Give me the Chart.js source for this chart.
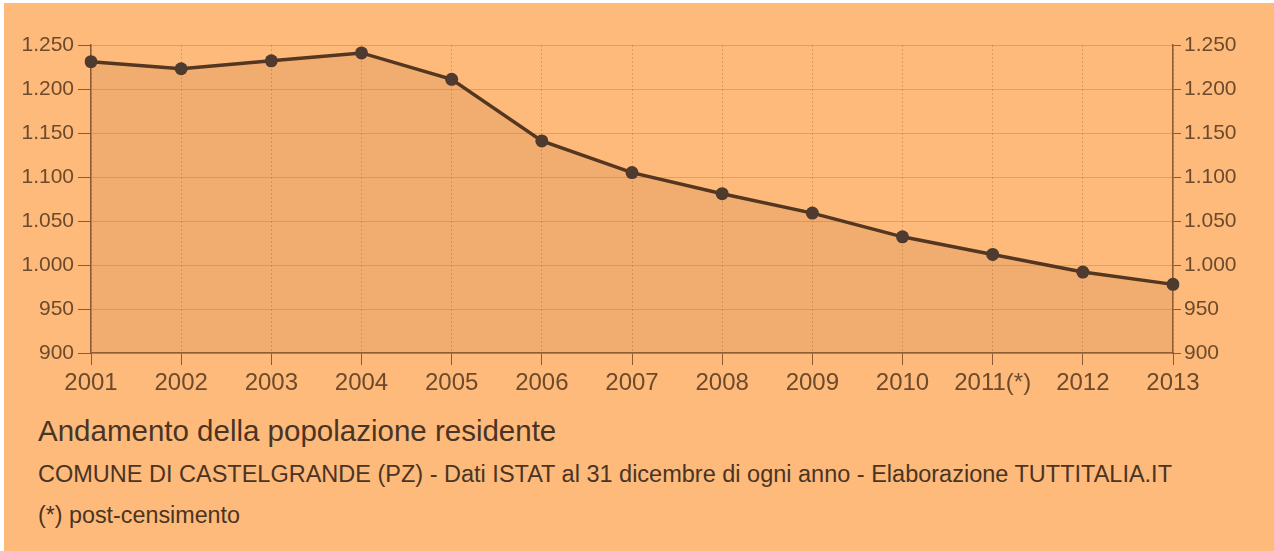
<!DOCTYPE html>
<html>
<head>
<meta charset="utf-8">
<script src="https://cdn.jsdelivr.net/npm/chart.js@4"></script>
<style>
  html, body { margin: 0; padding: 0; background: #fff; }
  #frame {
    position: absolute; left: 4px; top: 3px; width: 1270px; height: 548px;
    background: #fdba7b; font-family: "Liberation Sans", Arial, sans-serif;
  }
  #chart-box { position: absolute; left: -4px; top: -3px; width: 1274px; height: 400px; }
  .txt { position: absolute; left: 34px; color: #4a3424; white-space: nowrap; line-height: 1; }
  #title { top: 413px; font-size: 29.5px; }
  #sub { top: 460px; font-size: 23.5px; }
  #note { top: 501px; font-size: 23.3px; }
</style>
</head>
<body>
<div id="frame">
  <div id="chart-box"><canvas id="chart" width="1274" height="400"></canvas></div>
  <div class="txt" id="title">Andamento della popolazione residente</div>
  <div class="txt" id="sub">COMUNE DI CASTELGRANDE (PZ) - Dati ISTAT al 31 dicembre di ogni anno - Elaborazione TUTTITALIA.IT</div>
  <div class="txt" id="note">(*) post-censimento</div>
</div>
<script>
const years = ['2001', '2002', '2003', '2004', '2005', '2006', '2007', '2008', '2009', '2010', '2011(*)', '2012', '2013'];
const population = [1231, 1223, 1232, 1241, 1211, 1141, 1105, 1081, 1059, 1032, 1012, 992, 978];
const yMin = 900;
const yMax = 1250;

// Italian style thousands separator: 1.250
function fmt(v) {
    return String(v).replace(/\B(?=(\d{3})+(?!\d))/g, '.');
}

const fontFamily = '"Liberation Sans", Arial, sans-serif';
const axisColor = '#8a5a32';
const labelColor = '#6e4a2c';

const ctx = document.getElementById('chart').getContext('2d');
const chart = new Chart(ctx, {
    type: 'line',
    data: {
        labels: years,
        datasets: [{
            label: 'Popolazione',
            data: population,
            borderColor: '#553620',
            borderWidth: 3.5,
            backgroundColor: 'rgba(185, 110, 55, 0.17)',
            fill: 'start',
            tension: 0,
            pointRadius: 6.5,
            pointBackgroundColor: '#4e3a2e',
            pointBorderColor: '#4e3a2e',
            pointBorderWidth: 0,
            yAxisID: 'y'
        }]
    },
    options: {
        responsive: false,
        animation: false,
        layout: { padding: { top: 45, bottom: 0, left: 0, right: 0 } },
        plugins: {
            legend: { display: false },
            tooltip: { enabled: false }
        },
        scales: {
            x: {
                offset: false,
                afterFit: s => { s.height = 47; },
                grid: {
                    color: 'rgba(160, 95, 40, 0.35)',
                    tickColor: axisColor,
                    tickLength: 12,
                    lineWidth: 1
                },
                // dash here dots the vertical grid lines only
                border: { color: axisColor, width: 1.5, dash: [2, 2] },
                ticks: {
                    color: labelColor,
                    font: { family: fontFamily, size: 24 },
                    padding: 4,
                    maxRotation: 0,
                    autoSkip: false
                }
            },
            y: {
                position: 'left',
                min: yMin,
                max: yMax,
                afterFit: s => { s.width = 91; },
                grid: {
                    color: 'rgba(160, 95, 40, 0.3)',
                    tickColor: axisColor,
                    tickLength: 13
                },
                border: { color: axisColor, width: 1.5 },
                ticks: {
                    stepSize: 50,
                    color: labelColor,
                    font: { family: fontFamily, size: 21 },
                    padding: 4,
                    callback: v => fmt(v)
                }
            },
            y2: {
                position: 'right',
                min: yMin,
                max: yMax,
                afterFit: s => { s.width = 101; },
                grid: {
                    drawOnChartArea: false,
                    tickColor: axisColor,
                    tickLength: 8
                },
                border: { color: axisColor, width: 1.5 },
                ticks: {
                    stepSize: 50,
                    color: labelColor,
                    font: { family: fontFamily, size: 21 },
                    padding: 3,
                    callback: v => fmt(v)
                }
            }
        }
    }
});
</script>
</body>
</html>
